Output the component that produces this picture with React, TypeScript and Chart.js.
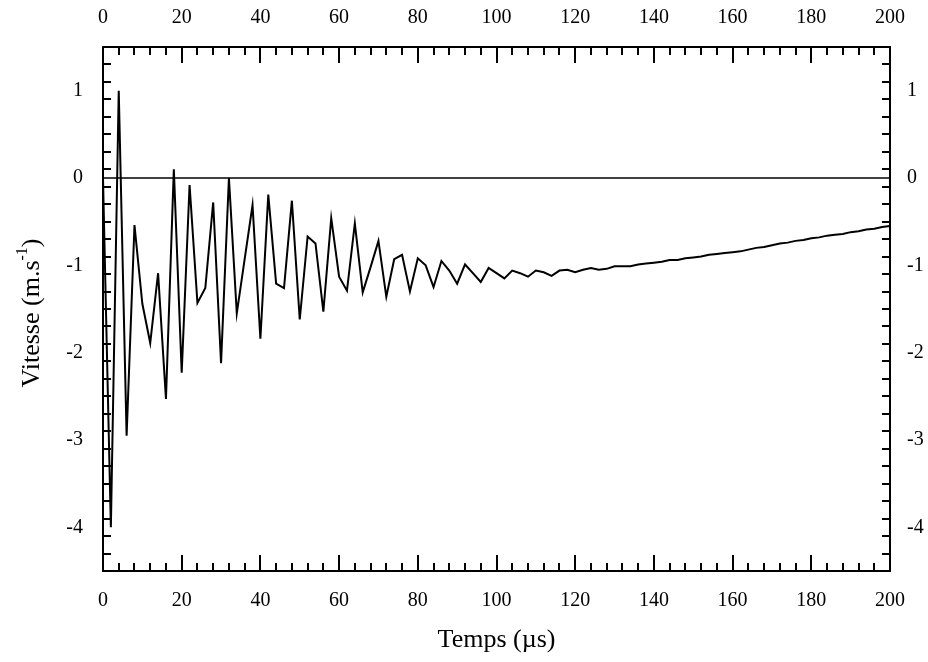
import React, { useEffect, useRef } from "react";
import { Chart, registerables } from "chart.js";

Chart.register(...registerables);

// Time (µs)
const timeUs = [
  0, 2, 4, 6, 8, 10, 12, 14, 16, 18, 20, 22, 24, 26, 28, 30, 32, 34, 36, 38,
  40, 42, 44, 46, 48, 50, 52, 54, 56, 58, 60, 62, 64, 66, 68, 70, 72, 74, 76, 78,
  80, 82, 84, 86, 88, 90, 92, 94, 96, 98, 100, 102, 104, 106, 108, 110, 112, 114, 116, 118,
  120, 122, 124, 126, 128, 130, 132, 134, 136, 138, 140, 142, 144, 146, 148, 150, 152, 154, 156, 158,
  160, 162, 164, 166, 168, 170, 172, 174, 176, 178, 180, 182, 184, 186, 188, 190, 192, 194, 196, 198,
  200,
];

// Vitesse (m/s)
const vitesse = [
  0.0, -4.0, 1.0, -2.95, -0.54, -1.44, -1.89, -1.09, -2.53, 0.1, -2.23, -0.08, -1.43, -1.26, -0.28, -2.12, 0.0, -1.55, -0.93, -0.31,
  -1.84, -0.19, -1.21, -1.26, -0.26, -1.62, -0.67, -0.75, -1.53, -0.46, -1.13, -1.29, -0.52, -1.31, -1.02, -0.72, -1.36, -0.93, -0.88, -1.3,
  -0.92, -1.0, -1.25, -0.95, -1.06, -1.21, -0.99, -1.09, -1.19, -1.03, -1.09, -1.15, -1.06, -1.09, -1.13, -1.06, -1.08, -1.12, -1.06, -1.05,
  -1.08, -1.05, -1.03, -1.05, -1.04, -1.01, -1.01, -1.01, -0.99, -0.98, -0.97, -0.96, -0.94, -0.94, -0.92, -0.91, -0.9, -0.88, -0.87, -0.86,
  -0.85, -0.84, -0.82, -0.8, -0.79, -0.77, -0.75, -0.74, -0.72, -0.71, -0.69, -0.68, -0.66, -0.65, -0.64, -0.62, -0.61, -0.59, -0.58, -0.56,
  -0.55,
];

// Zero reference line
const zeroLineX = [0, 200];
const zeroLineY = [0, 0];

// Tick labels
const xTickValues = [0, 20, 40, 60, 80, 100, 120, 140, 160, 180, 200];
const yTickValues = [-4, -3, -2, -1, 0, 1];

const X_MIN = 0;
const X_MAX = 200;
const Y_MIN = -4.5;
const Y_MAX = 1.5;

const FONT_FAMILY = "'Liberation Serif', 'Times New Roman', serif";
const TICK_FONT_SIZE = 20;
const TITLE_FONT_SIZE = 26;

const xTitle = "Temps (µs)";
const yTitleMain = "Vitesse (m.s";
const yTitleSup = "-1";
const yTitleEnd = ")";

const innerTicksPlugin = {
  id: "innerTicks",
  afterDraw(chart: any) {
    const ctx = chart.ctx as CanvasRenderingContext2D;
    const area = chart.chartArea;
    const xs = chart.scales.x;
    const ys = chart.scales.y;
    ctx.save();
    ctx.strokeStyle = "#000";
    ctx.lineWidth = 2;
    ctx.beginPath();
    // x ticks every 4, major every 20
    for (let i = 1; i * 4 < X_MAX; i++) {
      const v = X_MIN + i * 4;
      const px = Math.round(xs.getPixelForValue(v));
      const len = v % 20 === 0 ? 16 : 8;
      ctx.moveTo(px, area.bottom);
      ctx.lineTo(px, area.bottom - len);
      ctx.moveTo(px, area.top);
      ctx.lineTo(px, area.top + len);
    }
    // y ticks every 0.2, major every 1
    for (let i = 1; i < 30; i++) {
      const v = Y_MIN + i * 0.2;
      const major = Math.abs(v - Math.round(v)) < 1e-6;
      const py = Math.round(ys.getPixelForValue(v));
      const len = major ? 16 : 8;
      ctx.moveTo(area.left, py);
      ctx.lineTo(area.left + len, py);
      ctx.moveTo(area.right, py);
      ctx.lineTo(area.right - len, py);
    }
    ctx.stroke();

    // Axis titles
    ctx.fillStyle = "#000";
    ctx.font = `${TITLE_FONT_SIZE}px ${FONT_FAMILY}`;
    ctx.textAlign = "center";
    ctx.textBaseline = "middle";
    ctx.fillText(xTitle, (area.left + area.right) / 2, 640);

    // Y title rotated with superscript
    const supFont = `${Math.round(TITLE_FONT_SIZE * 0.6)}px ${FONT_FAMILY}`;
    const mainFont = `${TITLE_FONT_SIZE}px ${FONT_FAMILY}`;
    ctx.font = mainFont;
    const wMain = ctx.measureText(yTitleMain).width;
    const wEnd = ctx.measureText(yTitleEnd).width;
    ctx.font = supFont;
    const wSup = ctx.measureText(yTitleSup).width;
    const total = wMain + wSup + wEnd;
    ctx.translate(30, (area.top + area.bottom) / 2 + 4);
    ctx.rotate(-Math.PI / 2);
    ctx.textAlign = "left";
    ctx.textBaseline = "alphabetic";
    let cx = -total / 2;
    const base = TITLE_FONT_SIZE * 0.35;
    ctx.font = mainFont;
    ctx.fillText(yTitleMain, cx, base);
    cx += wMain;
    ctx.font = supFont;
    ctx.fillText(yTitleSup, cx, base - TITLE_FONT_SIZE * 0.45);
    cx += wSup;
    ctx.font = mainFont;
    ctx.fillText(yTitleEnd, cx, base);
    ctx.restore();
  },
};

function makeXScale(position: "top" | "bottom", size: number, padding: number) {
  return {
    type: "linear",
    axis: "x",
    position,
    min: X_MIN,
    max: X_MAX,
    afterBuildTicks: (scale: any) => {
      scale.ticks = xTickValues.map((v) => ({ value: v }));
    },
    afterFit: (scale: any) => {
      scale.height = size;
    },
    grid: { display: false, drawTicks: false },
    border: { display: true, color: "#000", width: 2 },
    ticks: {
      color: "#000",
      padding,
      maxRotation: 0,
      autoSkip: false,
      font: { family: FONT_FAMILY, size: TICK_FONT_SIZE },
    },
  };
}

function makeYScale(position: "left" | "right", size: number, padding: number) {
  return {
    type: "linear",
    axis: "y",
    position,
    min: Y_MIN,
    max: Y_MAX,
    afterBuildTicks: (scale: any) => {
      scale.ticks = yTickValues.map((v) => ({ value: v }));
    },
    afterFit: (scale: any) => {
      scale.width = size;
    },
    grid: { display: false, drawTicks: false },
    border: { display: true, color: "#000", width: 2 },
    ticks: {
      color: "#000",
      padding,
      autoSkip: false,
      font: { family: FONT_FAMILY, size: TICK_FONT_SIZE },
    },
  };
}

export default function App() {
  const canvasRef = useRef<HTMLCanvasElement | null>(null);

  useEffect(() => {
    document.body.style.margin = "0";
    const canvas = canvasRef.current;
    if (!canvas) return;
    const chart = new Chart(canvas, {
      type: "line",
      data: {
        datasets: [
          {
            label: "zero",
            data: zeroLineX.map((x, i) => ({ x, y: zeroLineY[i] })),
            borderColor: "#000",
            borderWidth: 1.5,
            pointRadius: 0,
            tension: 0,
            xAxisID: "x",
            yAxisID: "y",
          },
          {
            label: "Vitesse",
            data: timeUs.map((t, i) => ({ x: t, y: vitesse[i] })),
            borderColor: "#000",
            borderWidth: 2,
            pointRadius: 0,
            tension: 0,
            xAxisID: "x",
            yAxisID: "y",
          },
        ],
      },
      options: {
        animation: false,
        responsive: true,
        maintainAspectRatio: false,
        layout: { padding: 0 },
        plugins: {
          legend: { display: false },
          tooltip: { enabled: false },
          title: { display: false },
        },
        scales: {
          x: makeXScale("bottom", 91, 18),
          x2: makeXScale("top", 47, 17),
          y: makeYScale("left", 103, 20),
          y2: makeYScale("right", 38, 17),
        } as any,
      },
      plugins: [innerTicksPlugin],
    });
    return () => chart.destroy();
  }, []);

  return (
    <div style={{ width: 928, height: 662, position: "relative" }}>
      <canvas ref={canvasRef} />
    </div>
  );
}
